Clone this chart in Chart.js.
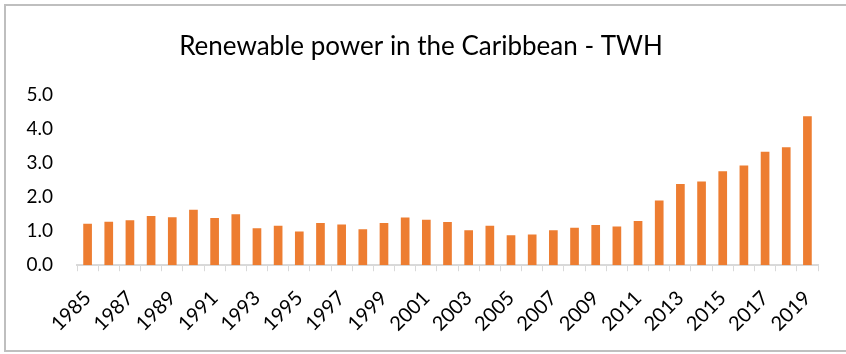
<!DOCTYPE html>
<html>
<head>
<meta charset="utf-8">
<script src="https://cdn.jsdelivr.net/npm/chart.js@4/dist/chart.umd.min.js"></script>
<style>
    body { margin: 0; background: #ffffff; }
    .frame {
        position: absolute;
        left: 4px;
        top: 4px;
        width: 850px;
        height: 348px;
        border: 2px solid #bfbfbf;
        box-sizing: border-box;
    }
    .chart-box {
        position: absolute;
        left: 0;
        top: 0;
        width: 846px;
        height: 354px;
    }
</style>
</head>
<body>
<div class="frame"></div>
<div class="chart-box"><canvas id="barChart"></canvas></div>
<script>
const years = [
    '1985', '1986', '1987', '1988', '1989', '1990', '1991', '1992', '1993', '1994',
    '1995', '1996', '1997', '1998', '1999', '2000', '2001', '2002', '2003', '2004',
    '2005', '2006', '2007', '2008', '2009', '2010', '2011', '2012', '2013', '2014',
    '2015', '2016', '2017', '2018', '2019'
];
const renewableTwh = [
    1.22, 1.28, 1.32, 1.45, 1.41, 1.63, 1.39, 1.50, 1.09, 1.16,
    0.99, 1.24, 1.20, 1.06, 1.24, 1.40, 1.34, 1.27, 1.03, 1.16,
    0.88, 0.90, 1.03, 1.10, 1.18, 1.14, 1.30, 1.90, 2.39, 2.46,
    2.76, 2.93, 3.34, 3.47, 4.38
];
const yTicks = [0, 1, 2, 3, 4, 5];

document.addEventListener("DOMContentLoaded", function() {
    const ctx = document.getElementById('barChart').getContext('2d');

    new Chart(ctx, {
        type: 'bar',
        data: {
            labels: years,
            datasets: [{
                data: renewableTwh,
                backgroundColor: '#ed7d31',
                barPercentage: 0.41,
                categoryPercentage: 1.0
            }]
        },
        options: {
            responsive: true,
            maintainAspectRatio: false,
            animation: false,
            layout: {
                padding: { left: 24, right: 28, top: 22, bottom: 3 }
            },
            scales: {
                x: {
                    // rotated labels would otherwise push the plot to the right
                    afterFit: function(axis) {
                        axis.paddingLeft = 0;
                        axis.paddingRight = 0;
                    },
                    grid: {
                        offset: true,
                        drawOnChartArea: false,
                        drawTicks: true,
                        tickLength: 6,
                        color: '#d9d9d9',
                        lineWidth: 1
                    },
                    border: { color: '#d9d9d9', width: 2 },
                    ticks: {
                        autoSkip: false,
                        maxRotation: 45,
                        minRotation: 45,
                        color: '#000000',
                        font: { family: 'Lato', size: 20 },
                        padding: 15,
                        callback: function(value, index) {
                            return index % 2 === 0 ? years[index] : '';
                        }
                    }
                },
                y: {
                    min: 0,
                    max: 5,
                    afterBuildTicks: function(axis) {
                        axis.ticks = yTicks.map(v => ({ value: v }));
                    },
                    afterFit: function(axis) {
                        axis.width = 53;
                    },
                    grid: { display: false, drawTicks: false },
                    border: { display: false },
                    ticks: {
                        color: '#000000',
                        font: { family: 'Lato', size: 19 },
                        padding: 24,
                        callback: function(value) {
                            return value.toFixed(1);
                        }
                    }
                }
            },
            plugins: {
                legend: { display: false },
                tooltip: { enabled: false },
                title: {
                    display: true,
                    text: 'Renewable power in the Caribbean - TWH',
                    color: '#000000',
                    font: { family: 'Lato', size: 26, weight: 'normal' },
                    padding: { top: 9, bottom: 33 }
                }
            }
        }
    });
});
</script>
</body>
</html>
